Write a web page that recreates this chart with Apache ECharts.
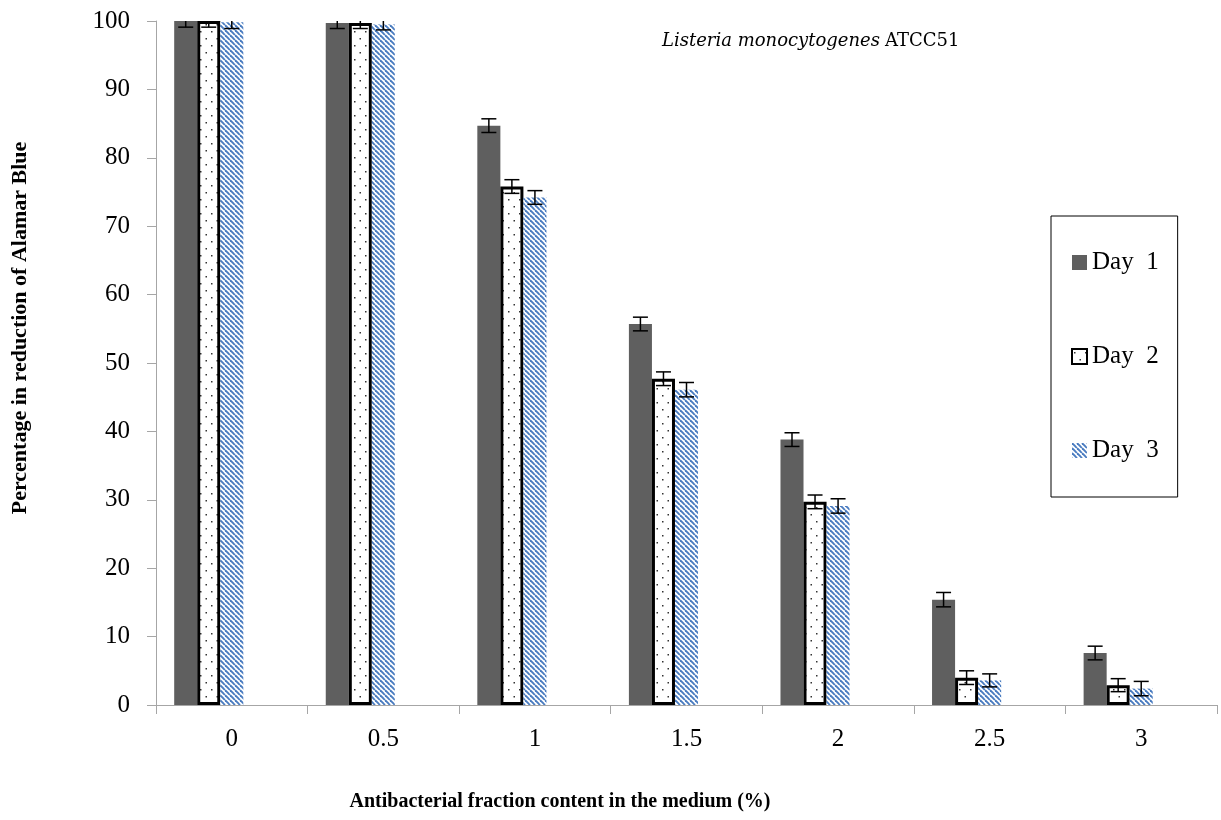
<!DOCTYPE html>
<html>
<head>
<meta charset="utf-8">
<script src="https://cdn.jsdelivr.net/npm/echarts@6/dist/echarts.min.js"></script>
<style>html,body{margin:0;padding:0;background:#fff;}#c{width:1221px;height:820px;}</style>
</head>
<body>
<div id="c"></div>
<script>
// ---- data ----
const categories = ['0', '0.5', '1', '1.5', '2', '2.5', '3'];
const day1 = [100, 99.7, 84.7, 55.7, 38.8, 15.4, 7.6];
const day2 = [100, 99.7, 75.8, 47.7, 29.7, 4.0, 2.9];
const day3 = [99.8, 99.5, 74.2, 46.1, 29.1, 3.6, 2.4];
const err1 = [0.9, 0.8, 1.0, 1.0, 1.0, 1.05, 1.0];
const err2 = [0.9, 0.8, 1.0, 1.0, 1.0, 1.0, 0.95];
const err3 = [0.9, 0.8, 1.0, 1.05, 1.05, 0.95, 1.05];
const yTicks = [0, 10, 20, 30, 40, 50, 60, 70, 80, 90, 100];

// ---- patterns ----
function dotPattern() {
  const c = document.createElement('canvas');
  c.width = 11; c.height = 14;
  const g = c.getContext('2d');
  g.fillStyle = '#fff'; g.fillRect(0, 0, 11, 14);
  g.fillStyle = '#333';
  g.fillRect(2, 3, 1.5, 1.5);
  g.fillRect(7.5, 10, 1.5, 1.5);
  return c;
}
function hatchPattern() {
  const p = 5;
  const c = document.createElement('canvas');
  c.width = p; c.height = p;
  const g = c.getContext('2d');
  g.fillStyle = '#fff'; g.fillRect(0, 0, p, p);
  g.strokeStyle = '#4a7cc0';
  g.lineWidth = 1.9;
  for (const o of [-p, 0, p]) {
    g.beginPath(); g.moveTo(o, 0); g.lineTo(o + p, p); g.stroke();
  }
  return c;
}

const chart = echarts.init(document.getElementById('c'));
const serif = 'Liberation Serif';
const GAP = 0.24, NB = 5;

function errSeries(k, vals, errs) {
  return {
    type: 'custom',
    z: 10,
    clip: true,
    data: vals.map((v, i) => [i, v, errs[i]]),
    renderItem: function (params, api) {
      const i = api.value(0), v = api.value(1), e = api.value(2);
      const cw = api.size([1, 0])[0];
      const bw = cw * (1 - GAP) / NB;
      const off = (k - (NB - 1) / 2) * bw;
      const top = api.coord([i, v + e]);
      const bot = api.coord([i, v - e]);
      const x = top[0] + off;
      const hw = 7.5;
      const st = { stroke: '#000', lineWidth: 1.5 };
      return {
        type: 'group',
        children: [
          { type: 'line', shape: { x1: x, y1: top[1], x2: x, y2: bot[1] }, style: st },
          { type: 'line', shape: { x1: x - hw, y1: top[1], x2: x + hw, y2: top[1] }, style: st },
          { type: 'line', shape: { x1: x - hw, y1: bot[1], x2: x + hw, y2: bot[1] }, style: st }
        ]
      };
    }
  };
}

const option = {
  backgroundColor: '#fff',
  animation: false,
  title: {
    text: '{i|Listeria monocytogenes} {n|ATCC51}',
    left: 657, top: 27,
    textStyle: {
      fontWeight: 'normal',
      rich: {
        i: { fontFamily: 'DejaVu Serif', fontStyle: 'italic', fontWeight: 'normal', fontSize: 18, color: '#000' },
        n: { fontFamily: 'DejaVu Serif', fontWeight: 'normal', fontSize: 18, color: '#000' }
      }
    }
  },
  legend: {
    orient: 'vertical',
    left: 1051, top: 216,
    padding: [34, 19, 34, 20],
    itemGap: 69,
    itemWidth: 15, itemHeight: 15,
    icon: 'rect',
    borderColor: '#000', borderWidth: 1,
    data: ['Day 1', 'Day 2', 'Day 3'],
    formatter: n => n.replace(' ', '  '),
    textStyle: { fontFamily: serif, fontSize: 25, color: '#000' }
  },
  grid: { left: 156, right: 4, top: 21, bottom: 115, containLabel: false },
  xAxis: {
    type: 'category',
    data: categories,
    axisLine: { lineStyle: { color: '#a6a6a6', width: 1 } },
    axisTick: { show: true, length: 9, lineStyle: { color: '#a6a6a6' } },
    axisLabel: { fontFamily: serif, fontSize: 25, color: '#000', margin: 22 },
    splitLine: { show: false }
  },
  yAxis: {
    type: 'value',
    min: yTicks[0], max: yTicks[yTicks.length - 1], interval: 10,
    axisLine: { show: true, lineStyle: { color: '#a6a6a6', width: 1 } },
    axisTick: { show: true, length: 9, lineStyle: { color: '#a6a6a6' } },
    axisLabel: { fontFamily: serif, fontSize: 25, color: '#000', margin: 26 },
    splitLine: { show: false }
  },
  graphic: [
    {
      type: 'text', x: 560, y: 802,
      style: { text: 'Antibacterial fraction content in the medium (%)', fontFamily: serif, fontWeight: 'bold', fontSize: 20, fill: '#000', align: 'center', verticalAlign: 'middle' }
    },
    {
      type: 'text', x: 20, y: 328, rotation: Math.PI / 2,
      style: { text: 'Percentage in reduction of Alamar Blue', fontFamily: serif, fontWeight: 'bold', fontSize: 22, fill: '#000', align: 'center', verticalAlign: 'middle' }
    }
  ],
  series: [
    { name: 'Day 1', type: 'bar', data: day1, barGap: '0%', barCategoryGap: (GAP * 100) + '%',
      itemStyle: { color: '#5f5f5f' } },
    { name: 'Day 2', type: 'bar', data: day2, barGap: '0%', barCategoryGap: (GAP * 100) + '%',
      itemStyle: { color: { image: dotPattern(), repeat: 'repeat' }, borderColor: '#000', borderWidth: 3 } },
    { name: 'Day 3', type: 'bar', data: day3, barGap: '0%', barCategoryGap: (GAP * 100) + '%',
      itemStyle: { color: { image: hatchPattern(), repeat: 'repeat' } } },
    { name: 'pad1', type: 'bar', data: categories.map(() => '-'), barGap: '0%', barCategoryGap: (GAP * 100) + '%' },
    { name: 'pad2', type: 'bar', data: categories.map(() => '-'), barGap: '0%', barCategoryGap: (GAP * 100) + '%' },
    errSeries(0, day1, err1),
    errSeries(1, day2, err2),
    errSeries(2, day3, err3)
  ]
};
chart.setOption(option);
</script>
</body>
</html>
